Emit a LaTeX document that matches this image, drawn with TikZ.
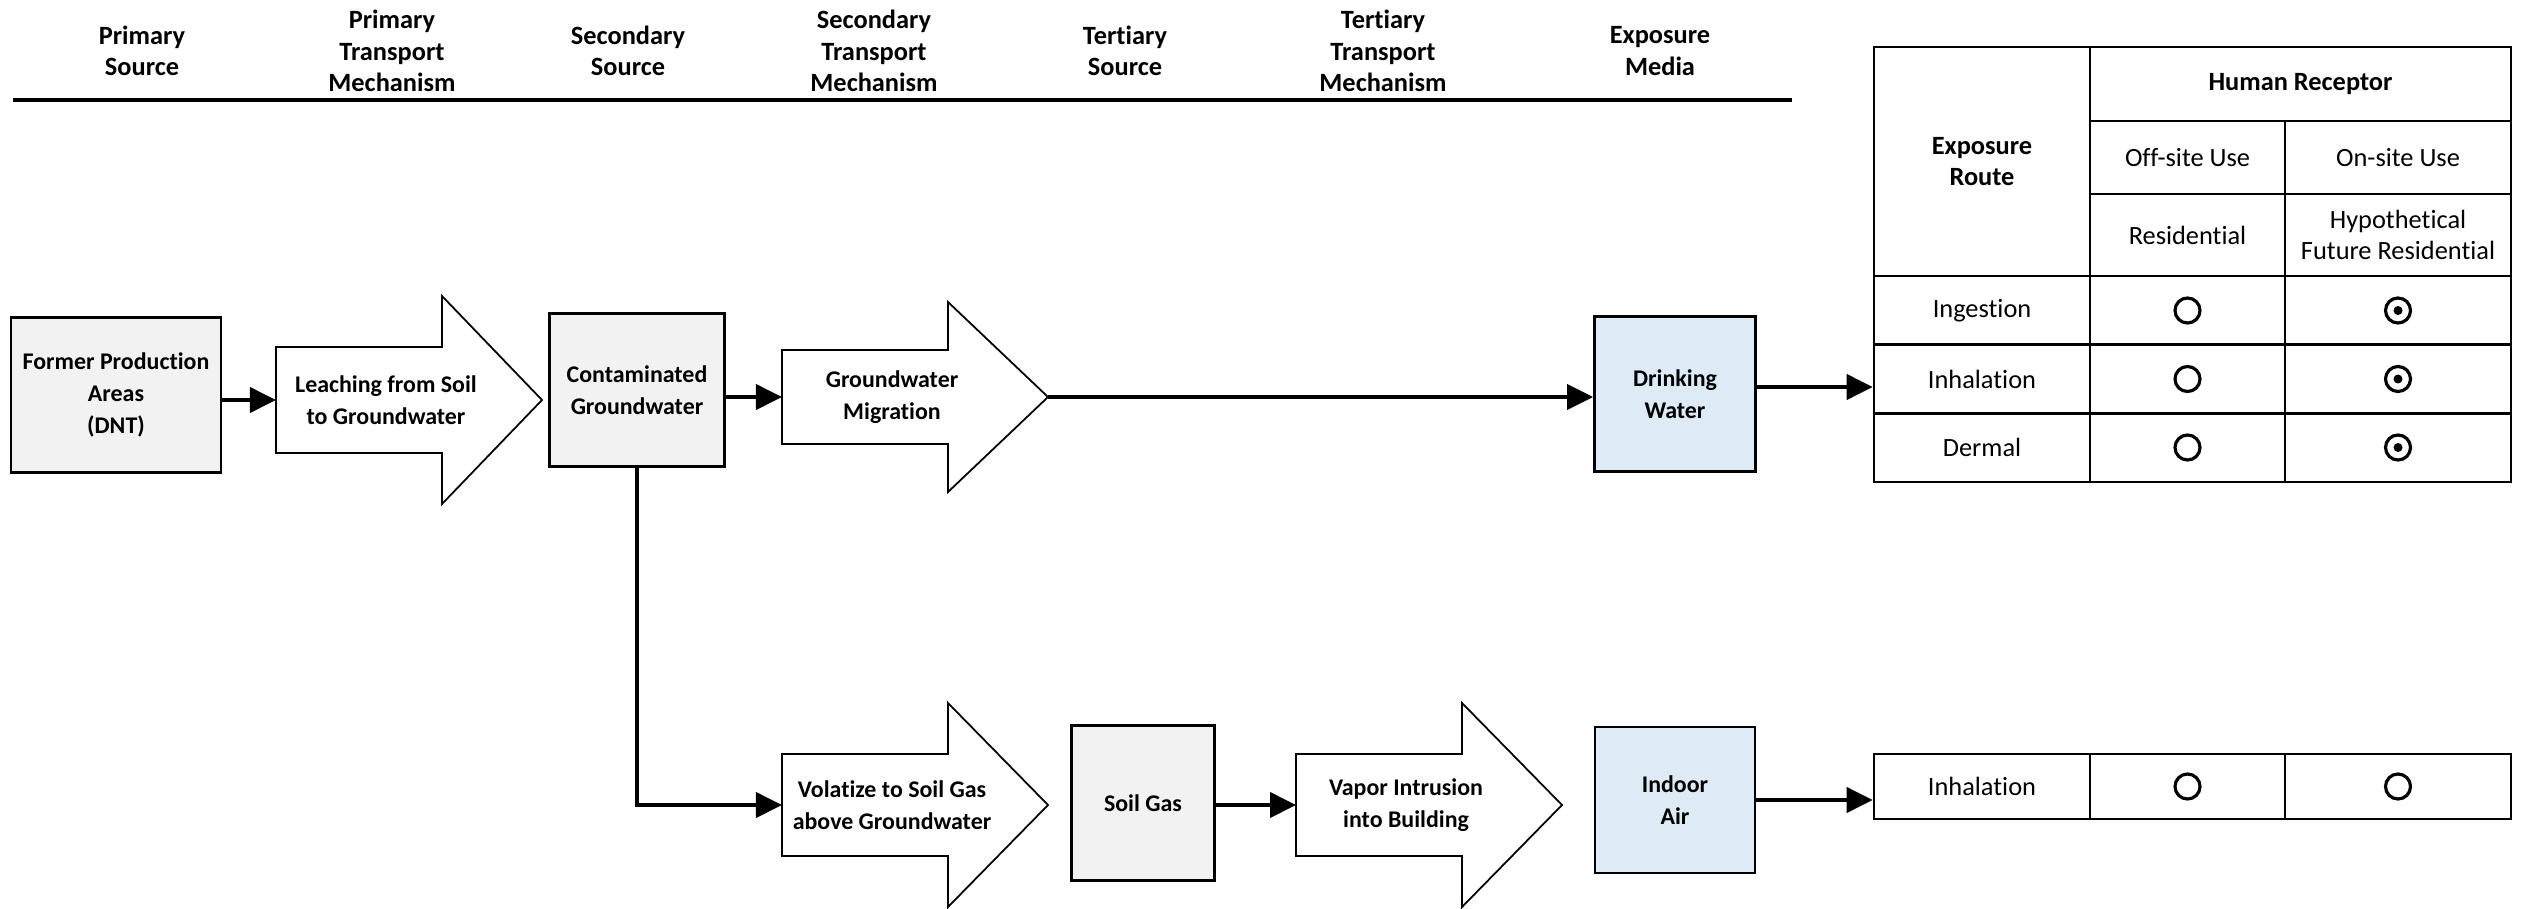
\documentclass[tikz,border=0pt]{standalone}
\usepackage{fontspec}
\setmainfont{Carlito}[Ligatures=NoCommon]
\usepackage{xcolor}
\usepackage{tikz}
\usetikzlibrary{arrows.meta,calc}
\definecolor{srcGray}{HTML}{F2F2F2}
\definecolor{mediaBlue}{HTML}{DEEBF7}

\newcommand{\flowfont}{\bfseries\fontsize{6.8}{9.2}\selectfont}
\newcommand{\colheadfont}{\bfseries\fontsize{7.5}{9}\selectfont}
\newcommand{\tabfont}{\fontsize{7.5}{9}\selectfont}

% block arrow: name, left x, mid y, body half height, head half height, text
\newcommand{\blockarrow}[6]{%
  \draw[arrowline] (#2,#3-#4) -- (#2+166,#3-#4) -- (#2+166,#3-#5) -- (#2+266,#3)
    -- (#2+166,#3+#5) -- (#2+166,#3+#4) -- (#2,#3+#4) -- cycle;
  \coordinate (#1-in) at (#2,#3);
  \coordinate (#1-tip) at (#2+266,#3);
  \node[flowtext] (#1) at (#2+110,#3) {#6};
}

\begin{document}
\begin{tikzpicture}[x=0.01cm, y=-0.01cm,
  srcbox/.style={draw, line width=0.75pt, fill=srcGray, font=\flowfont, align=center, inner sep=0pt},
  mediabox/.style={srcbox, fill=mediaBlue},
  flowtext/.style={font=\flowfont, align=center},
  arrowline/.style={draw, fill=white, line width=0.5pt, line join=miter},
  flow/.style={line width=1.1pt, -{Triangle[length=0.26cm,width=0.25cm]}},
  colhead/.style={font=\colheadfont, align=center},
  cell/.style={draw, line width=0.7pt, inner sep=0pt, align=center, font=\tabfont},
  cellA/.style={cell, minimum width=2.16cm},
  cellB/.style={cell, minimum width=1.95cm},
  cellC/.style={cell, minimum width=2.26cm},
  opendot/.style={circle, draw, line width=0.9pt, minimum size=0.25cm, inner sep=0pt},
  markdot/.style={opendot, path picture={\fill (path picture bounding box.center) circle[radius=0.045cm];}}]

  \useasboundingbox (0,0) rectangle (2527,909);

  % column headings
  \foreach \xx/\txt [count=\i] in {142/{Primary\\Source}, 392/{Primary\\Transport\\Mechanism},
      628/{Secondary\\Source}, 874/{Secondary\\Transport\\Mechanism}, 1125/{Tertiary\\Source},
      1383/{Tertiary\\Transport\\Mechanism}, 1660/{Exposure\\Media}}
    \node[colhead] (hd-\i) at (\xx,51) {\txt};
  \draw[line width=1pt] (13,100) -- (1792,100);

  % sources and media
  \node[srcbox, minimum width=2.10cm, minimum height=1.55cm] (former) at (116,395) {Former Production\\Areas\\(DNT)};
  \node[srcbox, minimum width=1.75cm, minimum height=1.53cm] (contam) at (637,390) {Contaminated\\Groundwater};
  \node[srcbox, minimum width=1.43cm, minimum height=1.55cm] (soilgas) at (1143,803) {Soil Gas};
  \node[mediabox, minimum width=1.61cm, minimum height=1.55cm] (drink) at (1675,394) {Drinking\\Water};
  \node[mediabox, minimum width=1.60cm, minimum height=1.46cm] (indoor) at (1675,800) {Indoor\\Air};

  % transport mechanisms
  \blockarrow{leach}{276}{400}{53}{104}{Leaching from Soil\\to Groundwater}
  \blockarrow{gwmig}{782}{397}{47}{95}{Groundwater\\Migration}
  \blockarrow{volat}{782}{805}{51}{102}{Volatize to Soil Gas\\above Groundwater}
  \blockarrow{vapor}{1296}{805}{51}{102}{Vapor Intrusion\\into Building}

  % receptor table
  \node[cellA, minimum height=2.29cm] (route) at (1982,161.5) {\bfseries Exposure\\\bfseries Route};
  \node[cell, minimum width=4.21cm, minimum height=0.74cm] (human) at (2300.5,84) {\bfseries Human Receptor};
  \node[cellB, minimum height=0.73cm] (offuse) at (2187.5,157.5) {Off-site Use};
  \node[cellC, minimum height=0.73cm] (onuse) at (2398,157.5) {On-site Use};
  \node[cellB, minimum height=0.82cm] (resid) at (2187.5,235) {Residential};
  \node[cellC, minimum height=0.82cm] (hypres) at (2398,235) {Hypothetical\\Future Residential};
  \foreach \lbl/\yy/\nm in {Ingestion/310.5/ing, Inhalation/379/inh, Dermal/447.5/der} {
    \node[cellA, minimum height=0.69cm] (\nm-route) at (1982,\yy) {\lbl};
    \node[cellB, minimum height=0.69cm] (\nm-off) at (2187.5,\yy) {};
    \node[cellC, minimum height=0.69cm] (\nm-on) at (2398,\yy) {};
    \node[opendot] (\nm-offmark) at (\nm-off) {};
    \node[markdot] (\nm-onmark) at (\nm-on) {};
  }
  \node[cellA, minimum height=0.65cm] (air-route) at (1982,786.5) {Inhalation};
  \node[cellB, minimum height=0.65cm] (air-off) at (2187.5,786.5) {};
  \node[cellC, minimum height=0.65cm] (air-on) at (2398,786.5) {};
  \node[opendot] (air-offmark) at (air-off) {};
  \node[opendot] (air-onmark) at (air-on) {};

  % connectors
  \draw[flow] (leach-in -| former.east) -- (leach-in);
  \draw[flow] (gwmig-in -| contam.east) -- (gwmig-in);
  \draw[flow] (gwmig-tip) -- (gwmig-tip -| drink.west);
  \draw[flow] ([yshift=0.07cm]drink.east) -- ([yshift=0.07cm]drink.east -| route.west);
  \draw[flow] (contam.south) |- (volat-in);
  \draw[flow] (vapor-in -| soilgas.east) -- (vapor-in);
  \draw[flow] (indoor.east) -- (indoor.east -| air-route.west);
\end{tikzpicture}
\end{document}
